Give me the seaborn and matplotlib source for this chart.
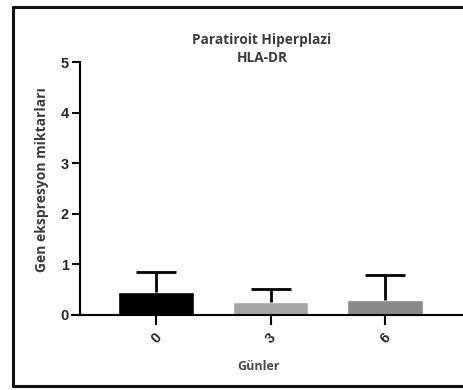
import matplotlib
matplotlib.use("Agg")
import matplotlib.pyplot as plt
from matplotlib.lines import Line2D
import seaborn as sns
import pandas as pd

# Gene expression of HLA-DR in parathyroid hyperplasia by day
days = ["0", "3", "6"]
mean_expr = [0.45, 0.25, 0.30]
sd_upper = [0.40, 0.27, 0.50]
bar_colors = ["#000000", "#a6a6a6", "#8a8a8a"]
y_ticks = [0, 1, 2, 3, 4, 5]

title_lines = "Paratiroit Hiperplazi\nHLA-DR"
x_label = "Günler"
y_label = "Gen ekspresyon miktarları"

df = pd.DataFrame({"day": days, "expr": mean_expr})

sns.set_style("white")
plt.rcParams["font.family"] = ["Liberation Sans", "DejaVu Sans"]

W, H = 463, 390
fig = plt.figure(figsize=(W / 100, H / 100), dpi=100)
ax = fig.add_axes([80 / W, 75 / H, (W - 80) / W, 253 / H])

sns.barplot(data=df, x="day", y="expr", hue="day", palette=bar_colors,
            legend=False, width=0.66, saturation=1, errorbar=None, ax=ax)

# upper-only error bars with caps
xs = range(len(days))
tops = [m + e for m, e in zip(mean_expr, sd_upper)]
ax.vlines(list(xs), mean_expr, tops, color="black", lw=2)
ax.hlines(tops, [x - 0.175 for x in xs], [x + 0.175 for x in xs],
          color="black", lw=2)

ax.set_xlim(-0.664, 2.68)
ax.set_ylim(0, 5)
ax.set_yticks(y_ticks)
ax.set_xlabel("")
ax.set_ylabel("")

for s in ["top", "right"]:
    ax.spines[s].set_visible(False)
for s in ["left", "bottom"]:
    ax.spines[s].set_color("black")
    ax.spines[s].set_linewidth(1.5)
ax.spines["bottom"].set_bounds(-0.664 - 0.07, 2.68)

ax.tick_params(axis="y", direction="out", length=6, width=1.5, color="black",
               labelsize=10.5, pad=2, left=True)
ax.tick_params(axis="x", direction="out", length=7, width=1.5, color="black",
               labelsize=10.5, bottom=True)
for lab in ax.get_yticklabels():
    lab.set_fontweight("bold")
for lab in ax.get_xticklabels():
    lab.set_fontweight("bold")
    lab.set_rotation(45)
    lab.set_ha("center")
    lab.set_va("center")
    lab.set_rotation_mode("anchor")
ax.tick_params(axis="x", pad=10)

fig.text(262 / W, 1 - 49 / H, title_lines, ha="center", va="center",
         fontsize=9.8, fontweight="bold", color="#3a3a3a",
         family="Open Sans", linespacing=1.35)
fig.text(259 / W, 1 - 366 / H, x_label, ha="center", va="center",
         fontsize=9, fontweight="bold", color="#4a4a4a",
         family="Open Sans")
fig.text(42 / W, 1 - 180 / H, y_label, ha="center", va="center",
         rotation=90, fontsize=10, fontweight="bold", color="#3a3a3a",
         family="Open Sans")

# outer frame
fig.add_artist(Line2D([13 / W, 13 / W], [1 - 7 / H, 1 - 386 / H],
                      color="#111111", lw=2.2, transform=fig.transFigure))
fig.add_artist(Line2D([13 / W, 1.0], [1 - 7 / H, 1 - 7 / H],
                      color="#111111", lw=2.2, transform=fig.transFigure))
fig.add_artist(Line2D([13 / W, 1.0], [1 - 386 / H, 1 - 386 / H],
                      color="#111111", lw=2.2, transform=fig.transFigure))

fig.savefig("out.png", dpi=100)
